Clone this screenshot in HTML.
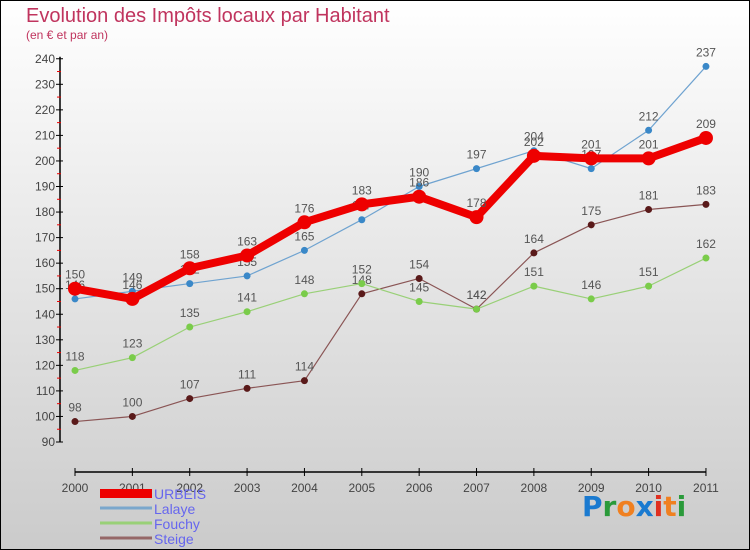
<!DOCTYPE html>
<html><head><meta charset="utf-8"><style>
body{margin:0}
svg{display:block;font-family:"Liberation Sans",sans-serif}
</style></head><body>
<svg width="750" height="550" viewBox="0 0 750 550">
<defs><linearGradient id="bg" x1="0" y1="0" x2="0" y2="1"><stop offset="0" stop-color="#ffffff"/><stop offset="1" stop-color="#cbcbcb"/></linearGradient></defs>
<rect x="0.5" y="0.5" width="749" height="549" fill="url(#bg)" stroke="#000"/>
<text x="26" y="22" font-size="20" fill="#c0345e">Evolution des Impôts locaux par Habitant</text>
<text x="26" y="39" font-size="12" fill="#c0345e">(en € et par an)</text>
<g id="axes"></g>
<g id="series"></g>
<g>
<rect x="100" y="489" width="52" height="9" fill="#e00"/>
<text x="154" y="499" font-size="14" fill="#6666ee">URBEIS</text>
<line x1="100" y1="508" x2="152" y2="508" stroke="#7aa7cc" stroke-width="3"/>
<text x="154" y="514" font-size="14" fill="#6666ee">Lalaye</text>
<line x1="100" y1="523" x2="152" y2="523" stroke="#99d077" stroke-width="3"/>
<text x="154" y="529" font-size="14" fill="#6666ee">Fouchy</text>
<line x1="100" y1="538" x2="152" y2="538" stroke="#956767" stroke-width="3"/>
<text x="154" y="544" font-size="14" fill="#6666ee">Steige</text>
</g>
<g font-size="28" font-weight="bold" font-family="'DejaVu Sans',sans-serif">
<text x="582" y="516"><tspan fill="#1a7ad0">P</tspan><tspan fill="#2a9a3a">r</tspan><tspan fill="#f08020">o</tspan><tspan fill="#1a7ad0">x</tspan><tspan fill="#e03020">i</tspan><tspan fill="#f08020">t</tspan><tspan fill="#2a9a3a">i</tspan></text>
</g>
</svg>
<script>
const years=[2000,2001,2002,2003,2004,2005,2006,2007,2008,2009,2010,2011];
const urbeis=[150,146,158,163,176,183,186,178,202,201,201,209];
const lalaye=[146,149,152,155,165,177,190,197,204,197,212,237];
const fouchy=[118,123,135,141,148,152,145,142,151,146,151,162];
const steige=[98,100,107,111,114,148,154,142,164,175,181,183];
const yTicks=[90,100,110,120,130,140,150,160,170,180,190,200,210,220,230,240];
const NS="http://www.w3.org/2000/svg";
const X=i=>75+i*57.36;
const Y=v=>442-(v-90)*2.555;
function mk(tag,attrs,parent){const e=document.createElementNS(NS,tag);for(const k in attrs)e.setAttribute(k,attrs[k]);parent.appendChild(e);return e;}
const ax=document.getElementById('axes');
let l=mk('line',{x1:60,y1:Y(240)-2,x2:60,y2:Y(90),stroke:'#000','stroke-width':1.5},ax);


l=mk('line',{x1:75,y1:472,x2:706,y2:472,stroke:'#000','stroke-width':1.5},ax);


yTicks.forEach((v,i)=>{
 mk('line',{x1:56,y1:Y(v),x2:63,y2:Y(v),stroke:'#000'},ax);
 if(i<yTicks.length-1)mk('line',{x1:57,y1:Y(v+5),x2:61,y2:Y(v+5),stroke:'#e00'},ax);
 const t=mk('text',{x:55,y:Y(v)+4,'text-anchor':'end','font-size':12,fill:'#444'},ax);
 t.textContent=v;
 
 
});
years.forEach((yr,i)=>{
 mk('line',{x1:X(i),y1:468,x2:X(i),y2:476,stroke:'#000'},ax);
 const t=mk('text',{x:X(i),y:466+26,'text-anchor':'middle','font-size':12,fill:'#444'},ax);
 t.textContent=yr;
 
 
});
const sg=document.getElementById('series');
function series(name,data,color,dot,w,r){
 const g=mk('g',{},sg);
 
 
 const p=mk('polyline',{points:data.map((v,i)=>X(i)+','+Y(v)).join(' '),fill:'none',stroke:color,'stroke-width':w,'stroke-linejoin':'round'},g);
 
 
 data.forEach((v,i)=>{
  const c=mk('circle',{cx:X(i),cy:Y(v),r:r,fill:dot},g);
  
  
  const t=mk('text',{x:X(i),y:Y(v)-10,'text-anchor':'middle','font-size':12,fill:'#555'},g);
  t.textContent=v;
  
  
 });
}
series('steige',steige,'#8a5555','#5a1a1a',1.2,3.5);
series('fouchy',fouchy,'#99d077','#7acc4a',1.2,3.5);
series('lalaye',lalaye,'#6fa3d0','#3a88c8',1.2,3.5);
series('urbeis',urbeis,'#ee0000','#ee0000',8,7);
</script>
</body></html>
